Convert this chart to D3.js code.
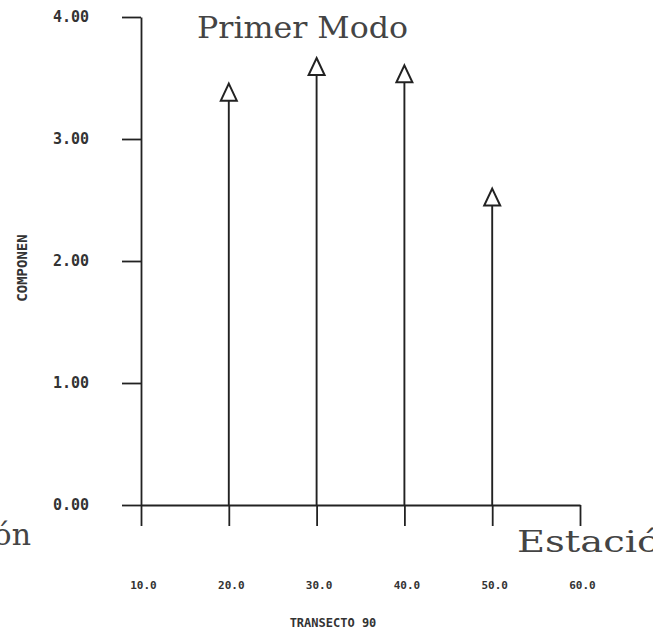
<!DOCTYPE html>
<html lang="es">
<head>
  <meta charset="UTF-8">
  <title>Primer Modo - Transecto 90</title>
  <script src="https://d3js.org/d3.v7.min.js"></script>
  <style>
    body { margin: 0; padding: 0; background: #fff; }
    svg { display: block; background: #fff; }
    .axis path, .axis line { stroke: #222; stroke-width: 1.8; }
    .tick-lbl { font-family: "DejaVu Sans Mono", monospace; font-weight: bold; fill: #333; }
    .typed { font-family: "DejaVu Serif", "Liberation Serif", serif; fill: #444; font-size: 30px; }
  </style>
</head>
<body>
  <svg id="chart" width="653" height="632"></svg>

  <script>
    // estaciones con flecha y su componente (primer modo)
    const stations = [20, 30, 40, 50];
    const componen = [3.38, 3.59, 3.53, 2.52];
    const xTicks = [10, 20, 30, 40, 50, 60];
    const yTicks = [0, 1, 2, 3, 4];

    const svg = d3.select("#chart");

    const x = d3.scaleLinear().domain([10, 60]).range([141, 580]);
    const y = d3.scaleLinear().domain([0, 4]).range([505, 17]);

    // eje Y
    const yAxis = svg.append("g")
      .attr("class", "axis")
      .attr("transform", `translate(${x(10)},0)`)
      .call(d3.axisLeft(y).tickValues(yTicks).tickSize(19).tickSizeOuter(0)
        .tickPadding(33).tickFormat(d3.format(".2f")));
    yAxis.selectAll("text")
      .attr("class", "tick-lbl")
      .style("font-size", "15px");

    // eje X
    const xAxis = svg.append("g")
      .attr("class", "axis")
      .attr("transform", `translate(0,${y(0)})`)
      .call(d3.axisBottom(x).tickValues(xTicks).tickSize(21).tickSizeOuter(0)
        .tickPadding(55).tickFormat(d3.format(".1f")));
    xAxis.selectAll("text")
      .attr("class", "tick-lbl")
      .attr("dx", 2)
      .style("font-size", "11px");
    svg.selectAll(".domain").attr("fill", "none");

    // tallos
    svg.selectAll("line.stem")
      .data(stations)
      .enter().append("line")
      .attr("class", "stem")
      .attr("x1", d => x(d))
      .attr("x2", d => x(d))
      .attr("y1", y(0))
      .attr("y2", (d, i) => y(componen[i]) + 8)
      .attr("stroke", "#222")
      .attr("stroke-width", 1.9);

    // triangulos
    svg.selectAll("path.mark")
      .data(stations)
      .enter().append("path")
      .attr("class", "mark")
      .attr("d", "M0,-9L8,8L-8,8Z")
      .attr("transform", (d, i) => `translate(${x(d)},${y(componen[i])})`)
      .attr("fill", "#fff")
      .attr("stroke", "#222")
      .attr("stroke-width", 2);

    // textos
    svg.append("text")
      .attr("class", "typed")
      .attr("x", 197)
      .attr("y", 38)
      .attr("textLength", 211)
      .attr("lengthAdjust", "spacingAndGlyphs")
      .text("Primer Modo");

    svg.append("text")
      .attr("class", "typed")
      .attr("x", 517)
      .attr("y", 552)
      .attr("textLength", 168)
      .attr("lengthAdjust", "spacingAndGlyphs")
      .text("Estación");

    svg.append("text")
      .attr("class", "typed")
      .attr("x", 31)
      .attr("y", 545)
      .attr("text-anchor", "end")
      .text("ón");

    svg.append("text")
      .attr("class", "tick-lbl")
      .attr("x", 333)
      .attr("y", 627)
      .attr("text-anchor", "middle")
      .style("font-size", "12px")
      .text("TRANSECTO 90");

    svg.append("text")
      .attr("class", "tick-lbl")
      .attr("transform", "translate(27,268) rotate(-90)")
      .attr("text-anchor", "middle")
      .style("font-size", "14px")
      .text("COMPONEN");
  </script>
</body>
</html>
